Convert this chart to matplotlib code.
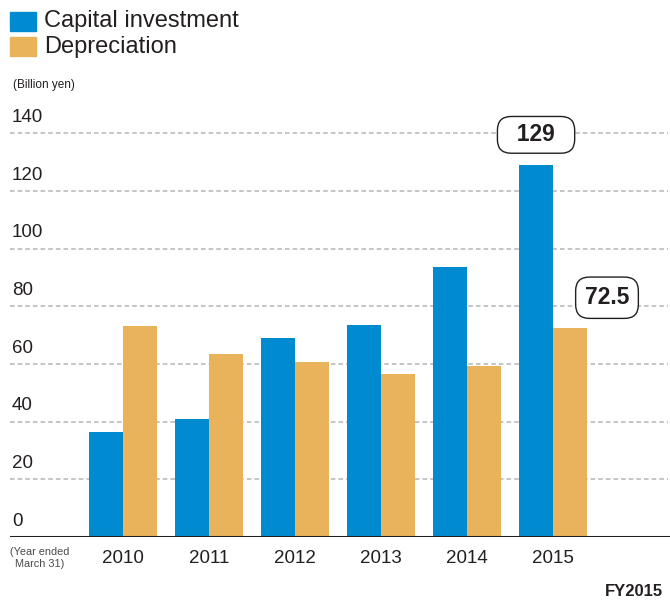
import matplotlib.pyplot as plt
import numpy as np

plt.rcParams['font.family'] = ['Liberation Sans', 'DejaVu Sans']

years = ['2010', '2011', '2012', '2013', '2014', '2015']
capital_investment = [36.5, 41.0, 69.1, 73.5, 93.8, 129]
depreciation = [73.3, 63.6, 60.8, 56.6, 59.4, 72.5]
y_ticks = [0, 20, 40, 60, 80, 100, 120, 140]

blue = '#008bd0'
orange = '#e8b35a'
ink = '#231f20'

fig = plt.figure(figsize=(6.7, 6.01), dpi=100)
ax = fig.add_axes([10 / 670, 64 / 601, 660 / 670, 418 / 601])

x = np.arange(len(years))
w = 0.395
ax.bar(x - w / 2, capital_investment, w, color=blue, zorder=3)
ax.bar(x + w / 2, depreciation, w, color=orange, zorder=3)

ax.set_xlim(-1.314, 6.36)
ax.set_ylim(0, 145)

# dashed grid with the value written just above each line
for t in y_ticks[1:]:
    ax.axhline(t, xmin=0, xmax=0.997, color='#b5b5b5', lw=1.1,
               dashes=(3, 2), zorder=1)
for t in y_ticks:
    ax.text(0.003, t + 2.6, str(t), transform=ax.get_yaxis_transform(),
            ha='left', va='bottom', fontsize=13.5, color=ink)

ax.axhline(0, xmin=0, xmax=0.997, color=ink, lw=2.2, zorder=4)

for s in ax.spines.values():
    s.set_visible(False)
ax.set_xticks([])
ax.set_yticks([])

for xi, yr in zip(x, years):
    ax.text(xi, -4.5, yr, ha='center', va='top', fontsize=13.5, color=ink)
ax.text(-0.965, -3.3, '(Year ended\nMarch 31)', ha='center', va='top',
        fontsize=7.8, color='#4a4a4a', linespacing=1.3)

# value callouts for the latest year
box = dict(boxstyle='round,pad=0.3,rounding_size=0.6', fc='white',
           ec=ink, lw=1.0)
ax.text(x[-1] - w / 2, capital_investment[-1] + 10.5, '  129  ',
        ha='center', va='center', fontsize=16.5, fontweight='bold', color=ink,
        bbox=box, zorder=5)
ax.text(x[-1] + w / 2 + 0.43, depreciation[-1] + 10.5, '72.5',
        ha='center', va='center', fontsize=16.5, fontweight='bold', color=ink,
        bbox=dict(box, boxstyle='round,pad=0.4,rounding_size=0.6'), zorder=5)

# legend
fig.patches.append(plt.Rectangle((10 / 670, 1 - 31 / 601), 26 / 670, 19 / 601,
                                 color=blue, transform=fig.transFigure))
fig.patches.append(plt.Rectangle((10 / 670, 1 - 56 / 601), 26 / 670, 19 / 601,
                                 color=orange, transform=fig.transFigure))
fig.text(44 / 670, 1 - 21.5 / 601, 'Capital investment', ha='left',
         va='center', fontsize=17, color=ink)
fig.text(44 / 670, 1 - 46.5 / 601, 'Depreciation', ha='left',
         va='center', fontsize=17, color=ink)
fig.text(13 / 670, 1 - 85 / 601, '(Billion yen)', ha='left', va='center',
         fontsize=8.5, color=ink)

fig.text(663 / 670, 1 - 591 / 601, 'FY2015', ha='right', va='center',
         fontsize=12, fontweight='bold', color=ink)

fig.savefig('out.png', dpi=100)
